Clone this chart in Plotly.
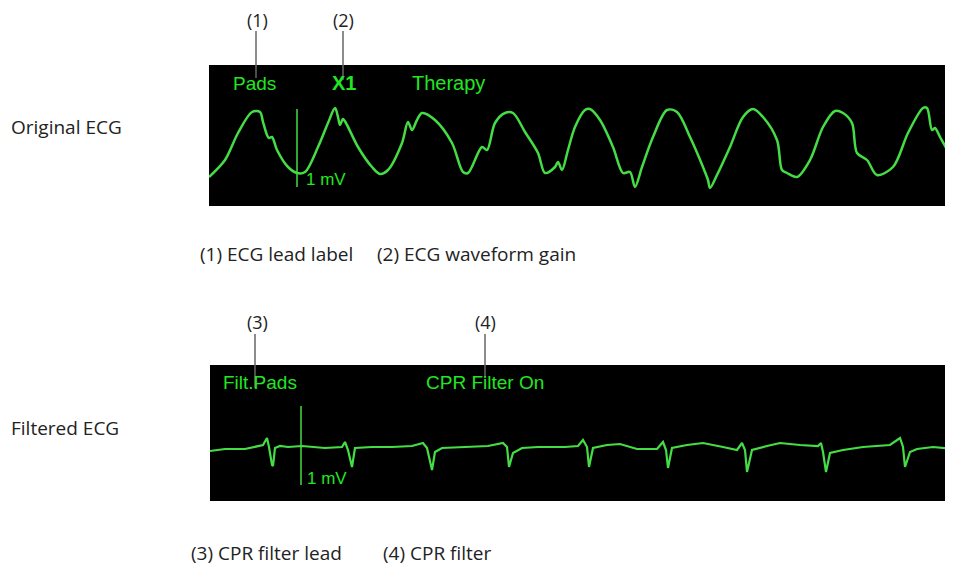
import plotly.graph_objs as go

# page body has an 8px margin, so the figure is drawn 8px in from the window corner
PAGE_W, PAGE_H, OFF = 953, 567, 8
W, H = PAGE_W - OFF, PAGE_H - OFF

# original ECG trace (x = sample offset in box, y = amplitude in display units, 78 units = 1 mV)
orig_x = [0, 16, 29, 43, 51, 54, 58, 60, 63, 68, 79, 88, 96, 109, 119, 126, 129, 131, 134, 138,
          149, 163, 171, 179, 193, 199, 203, 208, 213, 226, 243, 254, 259, 273, 278, 286, 296, 304,
          316, 329, 336, 346, 349, 353, 359, 366, 376, 381, 391, 404, 414, 421, 426, 433, 444, 458,
          468, 481, 494, 499, 501, 508, 521, 534, 544, 554, 568, 573, 578, 588, 601, 614, 626, 634,
          643, 648, 658, 668, 684, 699, 714, 718, 723, 726, 731, 744]
orig_y = [29, 46, 73, 94, 94, 84, 71, 68, 69, 56, 39, 33, 34, 59, 83, 98, 89, 81, 87, 81,
          59, 39, 32, 36, 63, 84, 76, 86, 93, 86, 63, 34, 33, 59, 56, 83, 93, 93,
          74, 53, 33, 39, 44, 36, 56, 79, 96, 97, 86, 59, 33, 34, 19, 39, 69, 96,
          94, 69, 39, 26, 18, 31, 59, 89, 97, 89, 66, 36, 33, 29, 46, 79, 95, 93,
          83, 53, 46, 31, 39, 73, 98, 98, 76, 78, 69, 46]

# filtered ECG trace
filt_x = [0, 15, 35, 53, 57, 59, 62, 63, 65, 70, 78, 92, 115, 132, 135, 138, 142, 145, 162, 182,
          202, 213, 217, 222, 225, 232, 255, 278, 293, 297, 299, 303, 312, 328, 355, 368, 373, 377,
          379, 383, 397, 410, 427, 447, 453, 456, 458, 462, 477, 493, 513, 527, 532, 535, 537, 542,
          557, 570, 590, 608, 611, 613, 616, 620, 633, 653, 680, 690, 693, 695, 700, 707, 723, 743]
filt_y = [50, 52, 52, 56, 63, 54, 36, 35, 53, 55, 54, 55, 53, 54, 59, 51, 34, 53, 54, 54,
          55, 58, 53, 31, 49, 53, 54, 55, 58, 54, 34, 48, 53, 54, 54, 55, 61, 54,
          34, 53, 56, 57, 52, 52, 59, 51, 33, 53, 56, 58, 54, 51, 58, 51, 29, 51,
          55, 58, 56, 55, 58, 49, 29, 48, 51, 54, 56, 63, 54, 34, 49, 52, 54, 52]

# 1 mV calibration bars
cal_top_x = [88, 88]
cal_top_y = [19, 97]
cal_bot_x = [91, 91]
cal_bot_y = [16, 95]

GREEN = '#45dd45'
TEXT_GREEN = '#22e622'
FONT = 'Open Sans'
MONITOR = 'Liberation Sans'


def px(x, y):
    return (x - OFF) / W, 1 - (y - OFF) / H


def xdom(a, b):
    return [px(a, 0)[0], min(1, px(b, 0)[0])]


def ydom(top, bottom):
    return [px(0, bottom)[1], px(0, top)[1]]


fig = go.Figure()
fig.add_trace(go.Scatter(x=orig_x, y=orig_y, mode='lines', xaxis='x', yaxis='y',
                         line=dict(color=GREEN, width=2.5, shape='spline', smoothing=0.9)))
fig.add_trace(go.Scatter(x=cal_top_x, y=cal_top_y, mode='lines', xaxis='x', yaxis='y',
                         line=dict(color=GREEN, width=1.5)))
fig.add_trace(go.Scatter(x=filt_x, y=filt_y, mode='lines', xaxis='x2', yaxis='y2',
                         line=dict(color=GREEN, width=2.2)))
fig.add_trace(go.Scatter(x=cal_bot_x, y=cal_bot_y, mode='lines', xaxis='x2', yaxis='y2',
                         line=dict(color=GREEN, width=1.5)))

ax = dict(visible=False, fixedrange=True)
fig.update_layout(
    width=W, height=H, autosize=False,
    margin=dict(l=0, r=0, t=0, b=0),
    paper_bgcolor='white', plot_bgcolor='black',
    showlegend=False,
    xaxis=dict(domain=xdom(209, 953), range=[0, 744], **ax),
    yaxis=dict(domain=ydom(65, 206), range=[0, 141], **ax),
    xaxis2=dict(domain=xdom(210, 953), range=[0, 743], anchor='y2', **ax),
    yaxis2=dict(domain=ydom(365, 501), range=[0, 136], anchor='x2', **ax),
)

# leader lines
for x, y0, y1 in [(256, 31, 78), (343, 31, 80), (255, 334, 388), (485, 334, 378)]:
    a, b = px(x, y0)
    _, c = px(x, y1)
    fig.add_shape(type='line', xref='paper', yref='paper', x0=a, x1=a, y0=b, y1=c,
                  line=dict(color='#666666', width=1.5))


def text(s, x, y, size, color='#222222', anchor='left', bold=False, family=FONT):
    a, b = px(x, y)
    fig.add_annotation(text=f'<b>{s}</b>' if bold else s, x=a, y=b, xref='paper', yref='paper',
                       xanchor=anchor, yanchor='middle', showarrow=False,
                       font=dict(family=family, size=size, color=color))


text('(1)', 257, 20, 18, anchor='center')
text('(2)', 343, 20, 18, anchor='center')
text('(3)', 257, 322, 18, anchor='center')
text('(4)', 485, 322, 18, anchor='center')

text('Original ECG', 9, 127, 19)
text('Filtered ECG', 9, 428, 19)

text('Pads', 231, 83, 19, TEXT_GREEN, family=MONITOR)
text('X1', 330, 83, 20, TEXT_GREEN, bold=True, family=MONITOR)
text('Therapy', 410, 83, 20, TEXT_GREEN, family=MONITOR)
text('1 mV', 304, 179, 17, TEXT_GREEN, family=MONITOR)

text('Filt.Pads', 221, 382, 19, TEXT_GREEN, family=MONITOR)
text('CPR Filter On', 424, 382, 19, TEXT_GREEN, family=MONITOR)
text('1 mV', 305, 478, 17, TEXT_GREEN, family=MONITOR)

text('(1) ECG lead label', 198, 254, 19)
text('(2) ECG waveform gain', 375, 254, 19)
text('(3) CPR filter lead', 189, 553, 19)
text('(4) CPR filter', 381, 553, 19)

fig.write_html('out.html')
